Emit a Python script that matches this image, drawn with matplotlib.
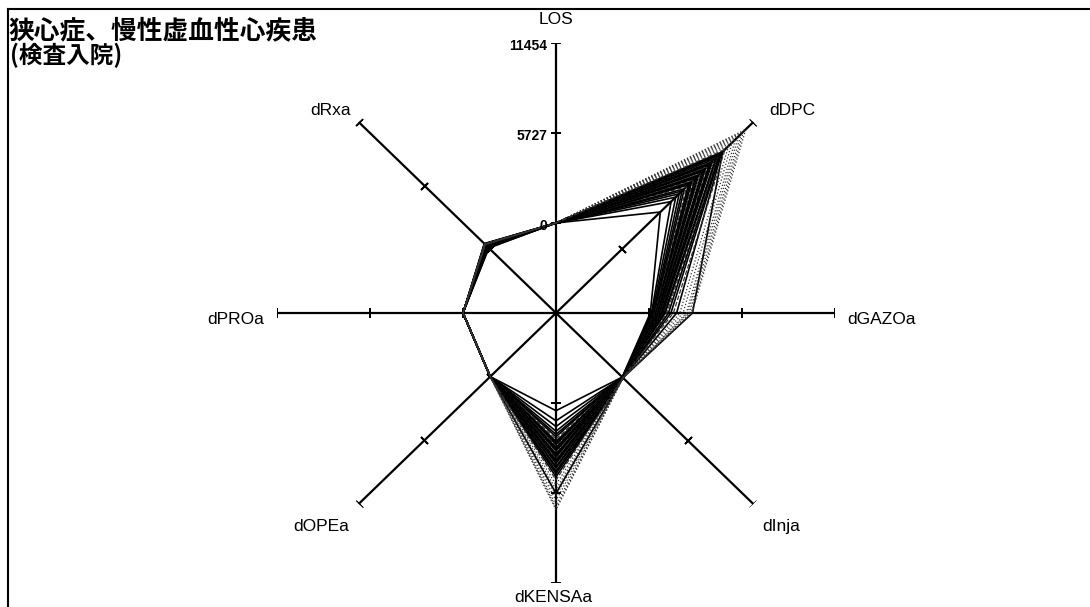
import numpy as np
import matplotlib
matplotlib.use("Agg")
import matplotlib.pyplot as plt
from matplotlib.lines import Line2D

# Radar axes (clockwise from the top)
categories = ["LOS", "dDPC", "dGAZOa", "dInja", "dKENSAa", "dOPEa", "dPROa", "dRxa"]

# Radial scale of every spoke
r_min, r_max = -5727, 11454
tick_values = [-5727, 0, 5727, 11454]
tick_labels = ["", "0", "5727", "11454"]

# One value per case (series) for each axis
los = [3, 4, 3, 5, 4, 3, 4, 5, 3, 4, 4, 3, 5, 4, 3, 4, 5, 3, 4, 4,
       3, 5, 4, 3, 4, 5, 3, 4, 4, 3, 5, 4, 3, 4, 5, 3, 4, 4]
ddpc = [3360, 4300, 4700, 5000, 5250, 5450, 5650, 5800, 5950, 6100,
        6250, 6400, 6550, 6700, 6850, 7000, 7150, 7300, 7450, 7600,
        7750, 7900, 8050, 8200, 8300, 8400, 8500, 8600, 8700, 8790,
        9000, 9300, 9600, 9900, 10150, 10400, 10600, 10800]
dgazoa = [80, 150, 200, 260, 300, 350, 380, 420, 450, 480,
          500, 530, 560, 590, 620, 650, 680, 700, 730, 760,
          800, 850, 900, 950, 1000, 1100, 1200, 1350, 1700, 2680,
          1500, 1900, 2100, 2300, 2400, 2500, 2600, 2650]
dinja = [40, 60, 50, 70, 80, 60, 90, 70, 80, 100,
         60, 70, 90, 80, 100, 70, 60, 90, 80, 100,
         110, 90, 80, 100, 120, 90, 100, 110, 120, 100,
         90, 110, 100, 120, 110, 100, 120, 110]
dkensaa = [490, 1130, 1500, 1800, 2000, 2150, 2300, 2450, 2550, 2650,
           2750, 2850, 2950, 3050, 3150, 3250, 3350, 3450, 3550, 3650,
           3750, 3850, 3950, 4050, 4150, 4250, 4350, 4500, 4700, 5750,
           4900, 5200, 5500, 5900, 6200, 6500, 6700, 6800]
dopea = [0, 0, 0, 0, 0, 0, 0, 0, 0, 0, 0, 0, 0, 0, 0, 0, 0, 0, 0, 0,
         0, 0, 0, 0, 0, 0, 0, 0, 0, 0, 0, 0, 0, 0, 0, 0, 0, 0]
dproa = [0, 0, 0, 0, 0, 0, 0, 0, 0, 0, 0, 0, 0, 0, 0, 0, 0, 0, 0, 0,
         0, 0, 0, 0, 0, 0, 0, 0, 0, 0, 0, 0, 0, 0, 0, 0, 0, 0]
drxa = [120, 150, 180, 200, 230, 250, 260, 280, 300, 310,
        320, 330, 340, 350, 360, 370, 380, 390, 400, 410,
        420, 430, 440, 450, 460, 470, 480, 490, 500, 520,
        500, 480, 470, 460, 450, 440, 430, 420]

# Line pattern for each case
line_styles = ["-", "-", "-", "-", "-", "-", "--", "-", "-", "-",
               "--", "-", "-", "-", ":", "-", "-", "-", "--", "-",
               "-", "-", ":", "-", "-", "--", "-", "-", "-", "-",
               "--", ":", ":", ":", ":", ":", ":", ":"]

series_by_axis = [los, ddpc, dgazoa, dinja, dkensaa, dopea, dproa, drxa]

W, H = 1090, 607
fig = plt.figure(figsize=(W / 100, H / 100), dpi=100)
fig.patch.set_facecolor("white")

# Polar axes stretched slightly wider than tall
ax = fig.add_axes([277 / W, (H - 583) / H, 558 / W, 540 / H], projection="polar")
ax.set_theta_zero_location("N")
ax.set_theta_direction(-1)
ax.set_ylim(r_min, r_max)
ax.set_aspect("auto")
ax.axis("off")

n_axes = len(categories)
theta = np.deg2rad(np.arange(n_axes) * 360.0 / n_axes)
theta_closed = np.append(theta, theta[0])

# Case polygons
n_series = len(ddpc)
for i in range(n_series):
    vals = [axis_vals[i] for axis_vals in series_by_axis]
    vals.append(vals[0])
    ls = line_styles[i]
    lw = 1.2 if ls == "-" else 0.9
    col = "black" if ls == "-" else "#333333"
    ax.plot(theta_closed, vals, color=col, lw=lw, ls=ls, zorder=3)

# Spokes with perpendicular tick marks
for k, th in enumerate(theta):
    ax.plot([th, th], [r_min, r_max], color="black", lw=1.6, zorder=2)
    ang = 90 - np.rad2deg(th)
    ax.plot([th] * len(tick_values[1:]), tick_values[1:], ls="none",
            marker=(2, 2, ang), ms=7, mew=1.3, color="black", zorder=2)

# Value labels on the LOS spoke
for v, lab in zip(tick_values, tick_labels):
    if lab:
        ax.annotate(lab, xy=(0, v), xytext=(-9, -3), textcoords="offset pixels",
                    ha="right", va="center", fontsize=10, fontweight="bold",
                    family="Liberation Sans", annotation_clip=False)

# Axis names placed beyond the spoke ends
label_offsets = [(0, 23), (39, 12), (46, -6), (28, -23),
                 (-3, -14), (-38, -23), (-41, -6), (-28, 12)]
for th, name, (dx, dy) in zip(theta, categories, label_offsets):
    ax.annotate(name, xy=(th, r_max), xytext=(dx, dy), textcoords="offset pixels",
                ha="center", va="center", fontsize=12.5,
                family="Liberation Sans", annotation_clip=False)

# Title
title_font = ["Noto Sans CJK JP", "DejaVu Sans"]
fig.text(9 / W, 1 - 31 / H, "狭心症、慢性虚血性心疾患", ha="left", va="center",
         fontsize=18.5, fontweight="bold", family=title_font)
fig.text(10 / W, 1 - 55 / H, "(検査入院)", ha="left", va="center",
         fontsize=17, fontweight="bold", family=title_font)

# Frame lines along the top and left edges
fig.add_artist(Line2D([8 / W, 1.0], [1 - 9 / H, 1 - 9 / H],
                      transform=fig.transFigure, color="black", lw=1.5))
fig.add_artist(Line2D([8 / W, 8 / W], [0, 1 - 9 / H],
                      transform=fig.transFigure, color="black", lw=1.5))

fig.savefig("out.png", dpi=100, facecolor="white")
